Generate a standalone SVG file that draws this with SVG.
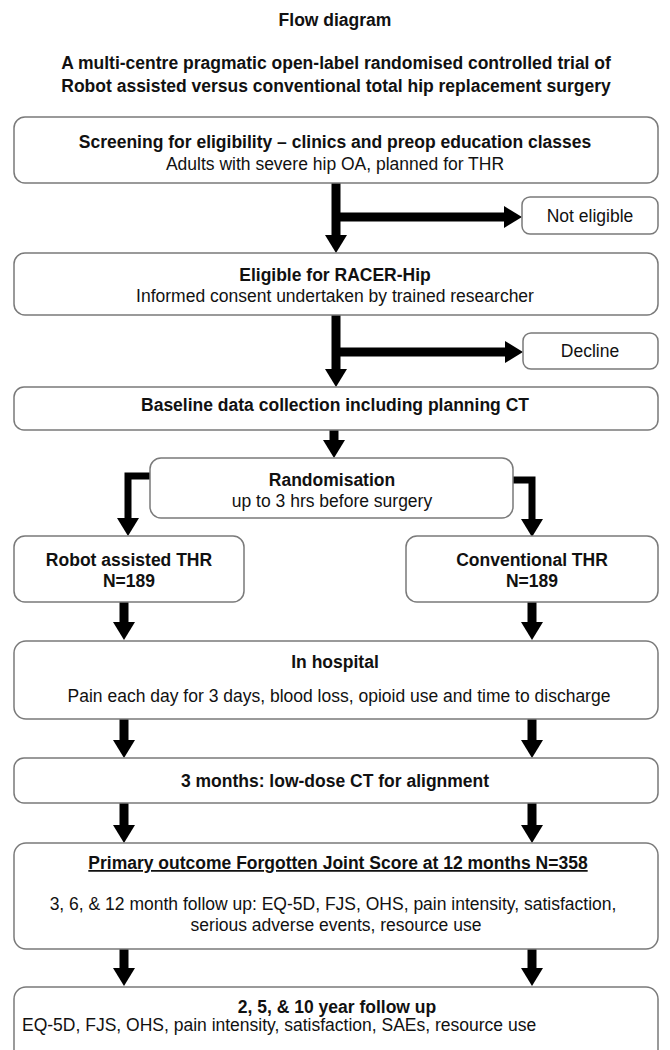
<svg xmlns="http://www.w3.org/2000/svg" width="670" height="1050" viewBox="0 0 670 1050">
<style>
text{font-family:"Liberation Sans",Arial,sans-serif;font-size:17.5px;fill:#111;text-anchor:middle}
.b{font-weight:bold}
.box{fill:#fff;stroke:#7a7a7a;stroke-width:1.5}
.arr{stroke:#000;stroke-width:9;fill:none}
.arr2{stroke:#000;stroke-width:7;fill:none}
</style>
<defs>
<marker id="ah" markerUnits="userSpaceOnUse" viewBox="0 -11 18 22" refX="0" refY="0" markerWidth="18" markerHeight="22" orient="auto">
<path d="M0,-11 L18,0 L0,11 Z" fill="#000"/>
</marker>
</defs>
<rect width="670" height="1050" fill="#fff"/>
<g id="title">
<text class="b" x="335" y="26">Flow diagram</text>
<text class="b" x="336" y="69">A multi-centre pragmatic open-label randomised controlled trial of</text>
<text class="b" x="336" y="92">Robot assisted versus conventional total hip replacement surgery</text>
</g>
<g id="connectors">
<line class="arr" x1="336" y1="183" x2="336" y2="235" marker-end="url(#ah)"/>
<line class="arr" x1="336" y1="217" x2="504" y2="217" marker-end="url(#ah)"/>
<line class="arr" x1="336" y1="315" x2="336" y2="369" marker-end="url(#ah)"/>
<line class="arr" x1="336" y1="352" x2="505" y2="352" marker-end="url(#ah)"/>
<line class="arr" x1="334" y1="430" x2="334" y2="440" marker-end="url(#ah)"/>
<path class="arr2" d="M150,476 H128 V518" marker-end="url(#ah)"/>
<path class="arr2" d="M513,480 H532 V519" marker-end="url(#ah)"/>
<line class="arr" x1="124" y1="602" x2="124" y2="622" marker-end="url(#ah)"/>
<line class="arr" x1="532" y1="602" x2="532" y2="622" marker-end="url(#ah)"/>
<line class="arr" x1="124" y1="719" x2="124" y2="740" marker-end="url(#ah)"/>
<line class="arr" x1="532" y1="719" x2="532" y2="740" marker-end="url(#ah)"/>
<line class="arr" x1="124" y1="803" x2="124" y2="825" marker-end="url(#ah)"/>
<line class="arr" x1="532" y1="803" x2="532" y2="825" marker-end="url(#ah)"/>
<line class="arr" x1="124" y1="949" x2="124" y2="968" marker-end="url(#ah)"/>
<line class="arr" x1="532" y1="949" x2="532" y2="968" marker-end="url(#ah)"/>
</g>
<g id="screening">
<rect class="box" x="14" y="117" width="644" height="66" rx="11"/>
<text class="b" x="335" y="148">Screening for eligibility – clinics and preop education classes</text>
<text x="335" y="170">Adults with severe hip OA, planned for THR</text>
</g>
<g id="not-eligible">
<rect class="box" x="522" y="197" width="136" height="37" rx="8"/>
<text x="590" y="222">Not eligible</text>
</g>
<g id="eligible">
<rect class="box" x="14" y="253" width="644" height="62" rx="11"/>
<text class="b" x="335" y="281">Eligible for RACER-Hip</text>
<text x="335" y="302">Informed consent undertaken by trained researcher</text>
</g>
<g id="decline">
<rect class="box" x="523" y="333" width="135" height="36" rx="8"/>
<text x="590" y="357">Decline</text>
</g>
<g id="baseline">
<rect class="box" x="14" y="387" width="644" height="43" rx="10"/>
<text class="b" x="335" y="411">Baseline data collection including planning CT</text>
</g>
<g id="randomisation">
<rect class="box" x="150" y="458" width="363" height="60" rx="11"/>
<text class="b" x="332" y="486">Randomisation</text>
<text x="332" y="507">up to 3 hrs before surgery</text>
</g>
<g id="robot">
<rect class="box" x="14" y="536" width="230" height="66" rx="11"/>
<text class="b" x="129" y="566">Robot assisted THR</text>
<text class="b" x="129" y="587">N=189</text>
</g>
<g id="conventional">
<rect class="box" x="406" y="536" width="252" height="66" rx="11"/>
<text class="b" x="532" y="566">Conventional THR</text>
<text class="b" x="532" y="587">N=189</text>
</g>
<g id="hospital">
<rect class="box" x="14" y="641" width="644" height="78" rx="12"/>
<text class="b" x="335" y="668">In hospital</text>
<text x="339" y="702">Pain each day for 3 days, blood loss, opioid use and time to discharge</text>
</g>
<g id="three-months">
<rect class="box" x="14" y="758" width="644" height="45" rx="10"/>
<text class="b" x="335" y="787">3 months: low-dose CT for alignment</text>
</g>
<g id="primary">
<rect class="box" x="14" y="843" width="644" height="106" rx="12"/>
<text class="b" x="338" y="869" text-decoration="underline">Primary outcome Forgotten Joint Score at 12 months N=358</text>
<text x="333" y="910">3, 6, &amp; 12 month follow up: EQ-5D, FJS, OHS, pain intensity, satisfaction,</text>
<text x="336" y="931">serious adverse events, resource use</text>
</g>
<g id="long-term">
<rect class="box" x="14" y="987" width="644" height="80" rx="12"/>
<text class="b" x="337" y="1013">2, 5, &amp; 10 year follow up</text>
<text x="22" y="1031" style="text-anchor:start">EQ-5D, FJS, OHS, pain intensity, satisfaction, SAEs, resource use</text>
</g>
</svg>
